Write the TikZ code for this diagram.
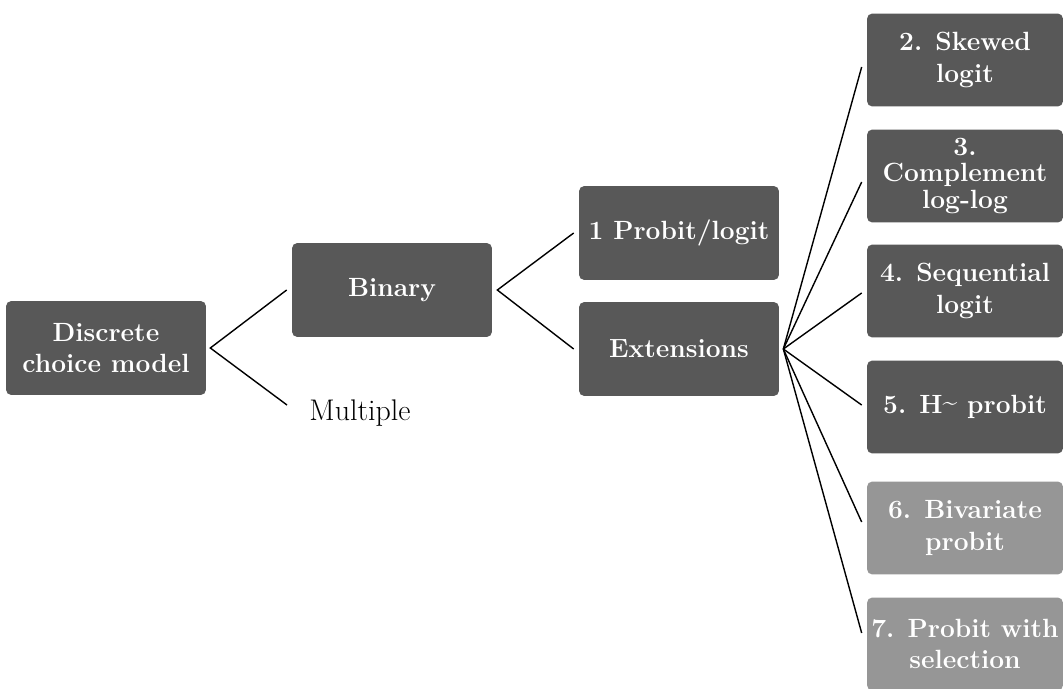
\documentclass[tikz,border=0pt]{standalone}
\usepackage{tikz}
\definecolor{boxgray}{RGB}{88,88,88}
\definecolor{boxlight}{RGB}{150,150,150}
\tikzset{box/.style = {fill=boxgray, rounded corners=3pt, text=white,
                       font=\bfseries\fontsize{15}{18}\selectfont, align=center,
                       minimum width=4cm, minimum height=1.88cm, inner sep=1pt}}
\tikzset{smallbox/.style = {box, minimum width=3.92cm, minimum height=1.86cm}}
\tikzset{lightbox/.style = {smallbox, fill=boxlight}}
\tikzset{branch/.style = {line width=0.8pt}}

\begin{document}
\begin{tikzpicture}[x=0.02cm, y=-0.02cm]
      \clip (0, 0) rectangle (1064, 689);

      \node [box] (dcm) at (106, 348) {Discrete\\choice model};
      \node [box] (binary) at (392, 290) {Binary};
      \node [font=\fontsize{17}{19}\selectfont] (multiple) at (360, 413) {Multiple};
      \node [box] (probit) at (679, 233) {1 Probit/logit};
      \node [box] (ext) at (679, 349) {Extensions};

      \node [smallbox] (skewed) at (965, 60) {2. Skewed\\logit};
      \node [smallbox, font=\bfseries\fontsize{15}{15}\selectfont] (cloglog) at (965, 176)
            {3.\\Complement\\log-log};
      \node [smallbox] (seq) at (965, 291) {4. Sequential\\logit};
      \node [smallbox] (hprobit) at (965, 407) {5. H\raisebox{0.25ex}{\~{}} probit};
      \node [lightbox] (biv) at (965, 528) {6. Bivariate\\probit};
      \node [lightbox] (sel) at (965, 644) {7. Probit with\\selection};

      \coordinate (dcmtip) at ([xshift=0.08cm]dcm.east);
      \coordinate (bintip) at ([xshift=0.1cm]binary.east);
      \coordinate (exttip) at ([xshift=0.08cm]ext.east);
      \coordinate (multend) at (287, 405);

      \draw [branch] ([xshift=-0.1cm]binary.west) -- (dcmtip) -- (multend);
      \draw [branch] ([xshift=-0.1cm]probit.west) -- (bintip) -- ([xshift=-0.1cm]ext.west);

      \foreach \b/\dy in {skewed/-0.14, cloglog/-0.12, seq/-0.04,
                          hprobit/0.04, biv/0.12, sel/0.22}
        \draw [branch] (exttip) -- ([xshift=-0.1cm, yshift=\dy cm]\b.west);
    \end{tikzpicture}
\end{document}
